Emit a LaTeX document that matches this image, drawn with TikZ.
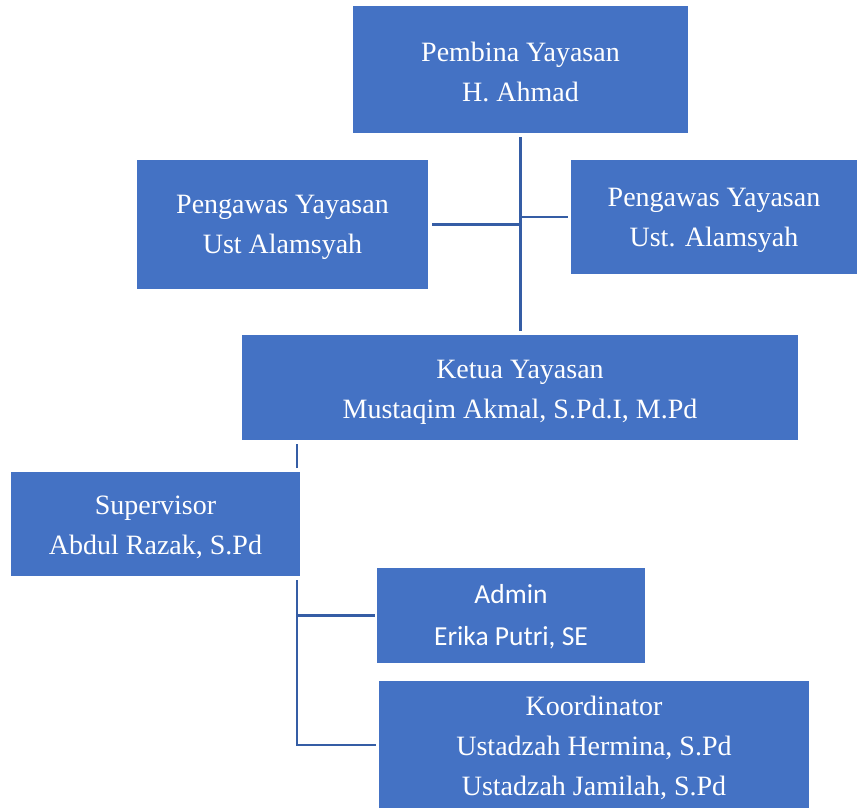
\documentclass[tikz,border=0pt]{standalone}
\usepackage{fontspec}
\setmainfont{Liberation Serif}
\newfontfamily\carlito{Carlito}
\definecolor{boxblue}{HTML}{4472C4}
\definecolor{lineblue}{HTML}{355DA5}
\newcommand\toppad{\rule{0pt}{25pt}}
\begin{document}
\begin{tikzpicture}[x=1pt,y=-1pt,
  orgbox/.style={rectangle, fill=boxblue, text=white, inner sep=0pt, align=center,
    font=\fontsize{28}{40}\selectfont},
  conn/.style={draw=lineblue, line width=2.6pt}]
\useasboundingbox (0,0) rectangle (857,807);
\node[orgbox, minimum width=335, minimum height=127] (pembina) at (520.5,69.5) {\toppad Pembina Yayasan\\H. Ahmad};
\node[orgbox, minimum width=291, minimum height=129] (pengL) at (282.5,224.5) {\toppad Pengawas Yayasan\\Ust Alamsyah};
\node[orgbox, minimum width=286, minimum height=114] (pengR) at (714,217) {\toppad Pengawas Yayasan\\Ust. Alamsyah};
\node[orgbox, minimum width=556, minimum height=105] (ketua) at (520,387.5) {\rule{0pt}{27pt}Ketua Yayasan\\Mustaqim Akmal, S.Pd.I, M.Pd};
\node[orgbox, minimum width=289, minimum height=104] (super) at (155.5,524) {\toppad Supervisor\\Abdul Razak, S.Pd};
\node[orgbox, minimum width=268, minimum height=95, font=\carlito\fontsize{27.5}{42}\selectfont] (admin) at (511,615.5) {\rule{0pt}{22pt}Admin\\Erika Putri, SE};
\node[orgbox, minimum width=430, minimum height=128] (koord) at (594,745) {\toppad Koordinator\\Ustadzah Hermina, S.Pd\\Ustadzah Jamilah, S.Pd};
\coordinate (supTop) at (297,472);
\coordinate (supBot) at (297,576);
\draw[conn, shorten <=4pt, shorten >=4pt] (pembina.south) -- (pembina.south |- ketua.north);
\draw[conn, shorten <=4pt] (pengL.east) -- (pengL.east -| pembina.south);
\draw[conn, shorten <=3pt] (pengR.west) -- (pengR.west -| pembina.south);
\draw[conn, shorten <=4pt, shorten >=4pt] (supTop) -- (supTop |- ketua.south);
\draw[conn] ([yshift=-4pt]supBot) -- (supBot |- koord.west) -- ([xshift=-3pt]koord.west);
\draw[conn] (supBot |- admin.west) -- ([xshift=-2pt]admin.west);
\end{tikzpicture}
\end{document}
